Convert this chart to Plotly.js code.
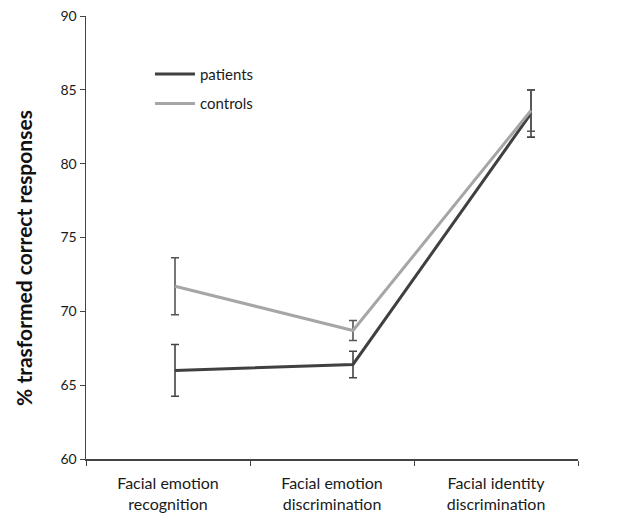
<!DOCTYPE html>
<html>
<head>
<meta charset="utf-8">
<script src="https://cdn.plot.ly/plotly-3.0.1.min.js"></script>
<style>html,body{margin:0;padding:0;background:#fff;}#chart{width:624px;height:520px;}</style>
</head>
<body>
<div id="chart"></div>
<script>
const categories = ["Facial emotion<br>recognition", "Facial emotion<br>discrimination", "Facial identity<br>discrimination"];
const patientsMean = [66.0, 66.4, 83.4];
const patientsErr = [1.75, 0.9, 1.6];
const controlsMean = [71.7, 68.7, 83.6];
const controlsErr = [1.93, 0.68, 1.4];
const yTicks = [60, 65, 70, 75, 80, 85, 90];
const yTitle = "% trasformed correct responses";

const font = "Lato, 'Open Sans', sans-serif";

const traces = [
  {
    name: "patients", legendgroup: "p", x: categories, y: patientsMean, type: "scatter", mode: "lines",
    xaxis: "x2",
    line: {color: "#404040", width: 3},
    error_y: {type: "data", array: patientsErr, visible: true, color: "#444", thickness: 1.6, width: 4}
  },
  {
    name: "controls", legendgroup: "c", x: categories, y: controlsMean, type: "scatter", mode: "lines",
    xaxis: "x2",
    line: {color: "#a6a6a6", width: 3},
    error_y: {type: "data", array: controlsErr, visible: true, color: "#555", thickness: 1.6, width: 4}
  },
  {x: categories, y: [null, null, null], type: "scatter", mode: "lines", showlegend: false, hoverinfo: "skip"}
];

const layout = {
  width: 624, height: 520,
  margin: {l: 86, r: 46, t: 16, b: 61},
  paper_bgcolor: "#fff", plot_bgcolor: "#fff",
  font: {family: font, color: "#1a1a1a"},
  showlegend: true,
  legend: {x: 0.13, y: 0.906, xanchor: "left", yanchor: "top", bgcolor: "rgba(0,0,0,0)", itemwidth: 40,
           font: {family: font, size: 15, color: "#1a1a1a"}, tracegroupgap: 7},
  xaxis: {
    type: "category", range: [-0.5, 2.5], tickson: "boundaries", ticks: "outside", ticklen: 5,
    tickcolor: "#444", showline: true, linecolor: "#444", linewidth: 1.5, showgrid: false,
    ticklabelstandoff: 9,
    tickfont: {family: font, size: 16, color: "#1a1a1a"}, fixedrange: true
  },
  xaxis2: {
    type: "category", overlaying: "x", range: [-0.5, 2.264], visible: false, showgrid: false
  },
  yaxis: {
    range: [60, 90], tickvals: yTicks, ticks: "outside", ticklen: 5, tickcolor: "#444",
    showline: true, linecolor: "#444", linewidth: 1.5, showgrid: false, zeroline: false,
    tickfont: {family: font, size: 14, color: "#1a1a1a"}
  },
  annotations: [{
    text: "<b>" + yTitle + "</b>", xref: "paper", yref: "paper", x: -0.126, y: 0.454,
    xanchor: "center", yanchor: "middle", textangle: -90, showarrow: false,
    font: {family: font, size: 21, color: "#111"}
  }]
};

Plotly.newPlot("chart", traces, layout, {displayModeBar: false, staticPlot: true});
</script>
</body>
</html>
